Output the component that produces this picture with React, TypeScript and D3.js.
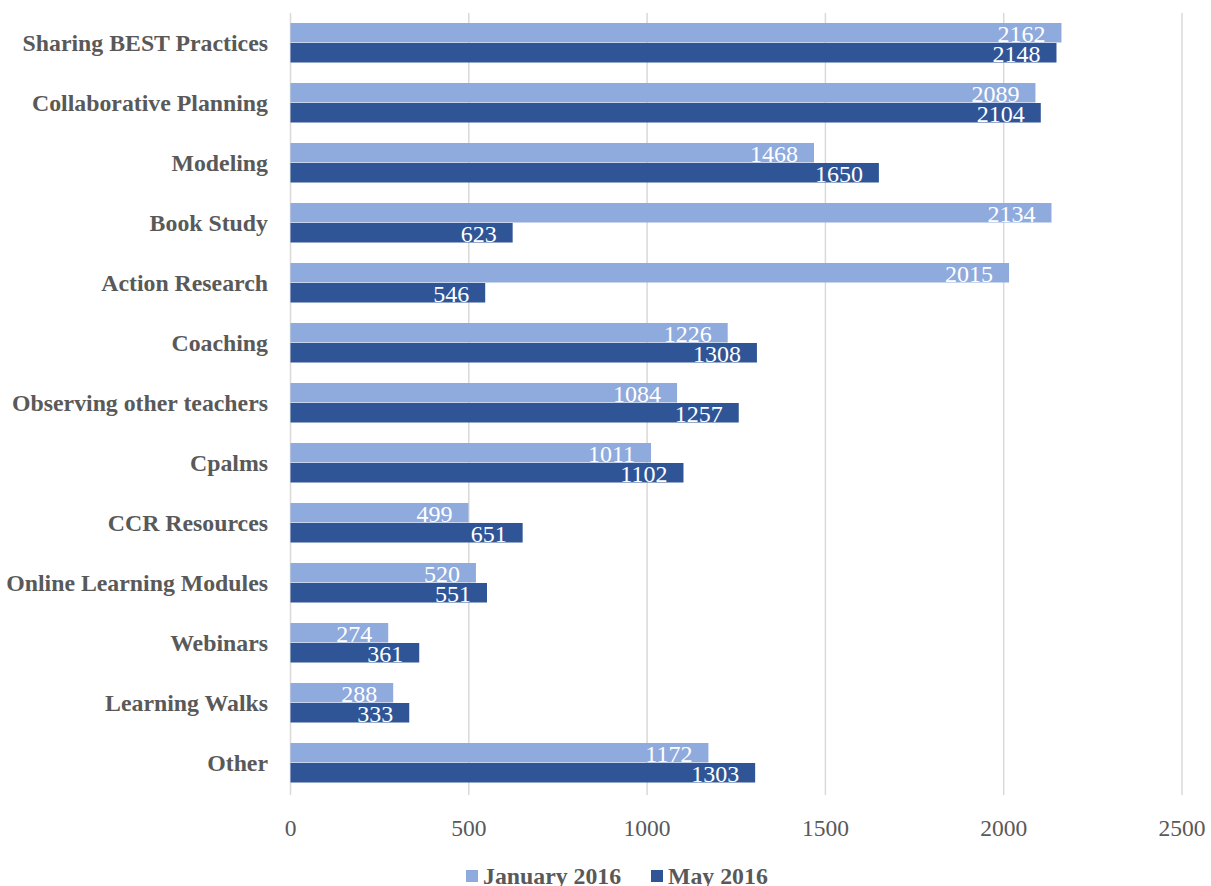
import React from "react";
import * as d3 from "d3";

const categories = [
  "Sharing BEST Practices",
  "Collaborative Planning",
  "Modeling",
  "Book Study",
  "Action Research",
  "Coaching",
  "Observing other teachers",
  "Cpalms",
  "CCR Resources",
  "Online Learning Modules",
  "Webinars",
  "Learning Walks",
  "Other",
];
const jan2016 = [2162, 2089, 1468, 2134, 2015, 1226, 1084, 1011, 499, 520, 274, 288, 1172];
const may2016 = [2148, 2104, 1650, 623, 546, 1308, 1257, 1102, 651, 551, 361, 333, 1303];
const xTicks = [0, 500, 1000, 1500, 2000, 2500];
const seriesNames = ["January 2016", "May 2016"];
const seriesColors = ["#8FAADC", "#2F5597"];

export default function App() {
  const W = 1211, H = 886;
  const left = 290.5, right = 1182, top = 13, bottom = 793;
  const x = d3.scaleLinear().domain([0, 2500]).range([left, right]);
  const y = d3.scaleBand().domain(categories).range([top, bottom]).paddingInner(1 / 3).paddingOuter(1 / 6);
  const inner = d3.scaleBand().domain(seriesNames).range([0, y.bandwidth()]);
  const series = [jan2016, may2016];
  const font = "'Liberation Serif', 'Times New Roman', serif";
  return (
    <svg width={W} height={H} style={{ position: "absolute", left: 0, top: 0 }} fontFamily={font}>
      <rect width={W} height={H} fill="#fff" />
      {xTicks.map((t) => (
        <line key={t} x1={x(t)} x2={x(t)} y1={top} y2={795} stroke="#D9D9D9" strokeWidth={1.5} />
      ))}
      {series.map((vals, si) =>
        vals.map((v, i) => {
          const by = (y(categories[i]) as number) + (inner(seriesNames[si]) as number);
          const bh = inner.bandwidth();
          return (
            <g key={`${si}-${i}`}>
              <rect x={x(0)} y={by} width={x(v) - x(0)} height={bh - 0.5} fill={seriesColors[si]} />
              <text x={x(v) - 16} y={by + 18.5} textAnchor="end" fill="#fff" fontSize={24}>
                {v}
              </text>
            </g>
          );
        })
      )}
      {categories.map((c) => (
        <text
          key={c}
          x={268}
          y={(y(c) as number) + y.bandwidth() / 2 + 8}
          textAnchor="end"
          fill="#595959"
          fontSize={23.8}
          fontWeight="bold"
        >
          {c}
        </text>
      ))}
      {xTicks.map((t) => (
        <text key={t} x={x(t)} y={836} textAnchor="middle" fill="#595959" fontSize={23.5}>
          {t}
        </text>
      ))}
      {seriesNames.map((s, i) => {
        const lx = [466, 651][i];
        return (
          <g key={s}>
            <rect x={lx} y={870} width={12} height={12} fill={seriesColors[i]} />
            <text x={lx + 17} y={884} fill="#595959" fontSize={23.8} fontWeight="bold">
              {s}
            </text>
          </g>
        );
      })}
    </svg>
  );
}
